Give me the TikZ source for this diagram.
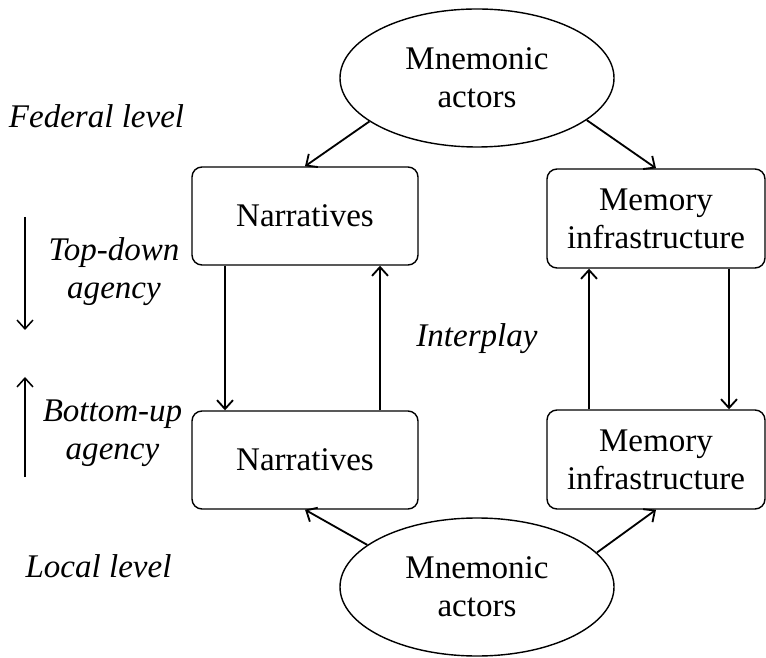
\documentclass[tikz,border=0pt]{standalone}
\usepackage{fontspec}
\setmainfont{Liberation Serif}
\usepackage{tikz}
\usetikzlibrary{shapes.geometric,arrows.meta}

\begin{document}
\begin{tikzpicture}[>={Straight Barb[length=2.2mm,width=4mm]}, font=\fontsize{23.5}{27}\selectfont,
		actor/.style={ellipse, draw, line width=1pt, inner sep=0pt, minimum width=6.85cm, minimum height=3.45cm, align=center},
		box/.style={draw, rounded corners=0.25cm, line width=1pt, inner sep=0pt, minimum width=5.65cm, minimum height=2.45cm, align=center},
		lbl/.style={font=\fontsize{23.5}{27}\selectfont\itshape, inner sep=0pt, align=center},
		link/.style={->, line width=1.3pt}]
		\useasboundingbox (0,0) rectangle (19.15,16.425);
		% actors
		\node[actor] (fedact) at (11.925,14.475) {Mnemonic\\actors};
		\node[actor] (locact) at (11.925,1.75) {Mnemonic\\actors};
		% boxes
		\node[box] (fednar) at (7.625,11.025) {Narratives};
		\node[box, minimum width=5.45cm, minimum height=2.475cm] (fedmem) at (16.4,10.9625) {Memory\\infrastructure};
		\node[box] (locnar) at (7.625,4.925) {Narratives};
		\node[box, minimum width=5.45cm, minimum height=2.475cm] (locmem) at (16.4,4.9375) {Memory\\infrastructure};
		% labels
		\node[lbl, anchor=base] (federal) at (2.4125,13.225) {Federal level};
		\node[lbl] (topdown) at (2.85,9.625) {Top-down\\agency};
		\node[lbl, anchor=base] (interplay) at (11.925,7.75) {Interplay};
		\node[lbl] (bottomup) at (2.8125,5.6) {Bottom-up\\agency};
		\node[lbl, anchor=base] (local) at (2.4625,2.0) {Local level};
		% side arrows
		\coordinate (downtop) at (0.625,11.0);
		\coordinate (downend) at (0.625,8.175);
		\coordinate (uptop) at (0.625,7.0);
		\coordinate (upend) at (0.625,4.5);
		\draw[->, line width=1.1pt] (downtop) -- (downend);
		\draw[->, line width=1.1pt] (upend) -- (uptop);
		% actors to boxes
		\draw[link] (fedact.202) -- (fednar.north);
		\draw[link] (fedact.339) -- (fedmem.north);
		\draw[link] (locact.159) -- (locnar.south);
		\draw[link] (locact.16) -- (locmem.south);
		% interplay
		\draw[link] ([xshift=-2cm]fednar.south) -- ([xshift=-2cm]locnar.north);
		\draw[link] ([xshift=1.875cm]locnar.north) -- ([xshift=1.875cm]fednar.south);
		\draw[link] ([xshift=-1.675cm]locmem.north) -- ([xshift=-1.675cm]fedmem.south);
		\draw[link] ([xshift=1.825cm]fedmem.south) -- ([xshift=1.825cm]locmem.north);
	\end{tikzpicture}
\end{document}
